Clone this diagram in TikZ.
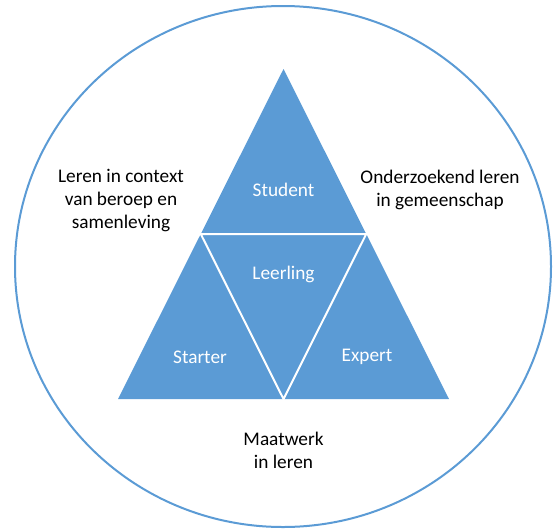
\documentclass[tikz,border=0pt]{standalone}
\usepackage{fontspec}
\setmainfont{Carlito}
\usetikzlibrary{calc}
\definecolor{officeblue}{HTML}{5B9BD5}
\begin{document}
\begin{tikzpicture}[x=1pt,y=-1pt,
  lbl/.style={font=\fontsize{19.3}{23}\selectfont, align=center, inner sep=0pt, text=black},
  wlbl/.style={lbl, text=white},
  sep/.style={draw=white, line width=2pt}]
\useasboundingbox (0,0) rectangle (554,528);
\draw[officeblue, line width=2pt] (283,266.5) ellipse [x radius=268, y radius=260.5];
\coordinate (A) at (283.5,69);
\coordinate (B) at (118,399);
\coordinate (C) at (449,399);
\coordinate (AB) at ($(A)!0.5!(B)$);
\coordinate (AC) at ($(A)!0.5!(C)$);
\coordinate (BC) at ($(B)!0.5!(C)$);
\fill[officeblue] (A) -- (B) -- (C) -- cycle;
\draw[sep] (AB) -- (AC) -- (BC) -- cycle;
\node[wlbl] (student) at (283.5,190) {Student};
\node[wlbl] (leerling) at (283.5,274) {Leerling};
\node[wlbl] (starter) at (200,357) {Starter};
\node[wlbl] (expert) at (367,357) {Expert};
\node[lbl] (context) at (121,201) {Leren in context\\van beroep en\\samenleving};
\node[lbl] (onderzoek) at (440,189.5) {Onderzoekend leren\\in gemeenschap};
\node[lbl] (maatwerk) at (283.5,450) {Maatwerk\\in leren};
\end{tikzpicture}
\end{document}
